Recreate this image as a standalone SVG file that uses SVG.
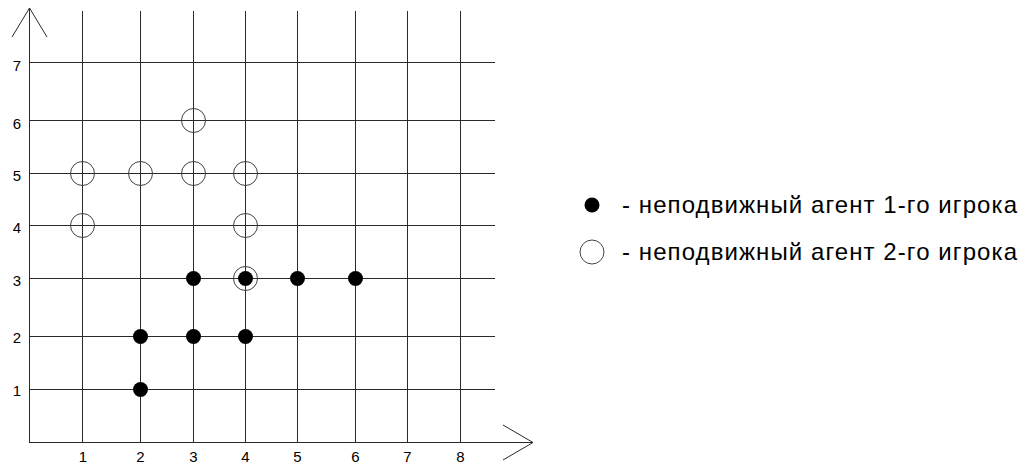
<svg xmlns="http://www.w3.org/2000/svg" width="1030" height="466" viewBox="0 0 1030 466">
<style>
.grid{stroke:#2a2a2a;stroke-width:1;fill:none}
.axis{stroke:#2a2a2a;stroke-width:1;fill:none}
.lbl{font-family:"Liberation Sans",Arial,sans-serif;font-size:15px;fill:#000;text-anchor:middle}
.leg{font-family:"Liberation Sans",Arial,sans-serif;font-size:24px;fill:#000}
.p1{fill:#000;stroke:none}
.p2{fill:none;stroke:#444;stroke-width:1}
</style>
<rect width="1030" height="466" fill="#fff"/>
<g id="connectors">
<g id="grid-v" class="grid">
<line x1="82.5" y1="11" x2="82.5" y2="443"/>
<line x1="140.5" y1="11" x2="140.5" y2="443"/>
<line x1="193.5" y1="11" x2="193.5" y2="443"/>
<line x1="245.5" y1="11" x2="245.5" y2="443"/>
<line x1="297.5" y1="11" x2="297.5" y2="443"/>
<line x1="355.5" y1="11" x2="355.5" y2="443"/>
<line x1="407.5" y1="11" x2="407.5" y2="443"/>
<line x1="460.5" y1="11" x2="460.5" y2="443"/>
</g>
<g id="grid-h" class="grid">
<line x1="30" y1="62.5" x2="495" y2="62.5"/>
<line x1="30" y1="120.5" x2="495" y2="120.5"/>
<line x1="30" y1="173.5" x2="495" y2="173.5"/>
<line x1="30" y1="225.5" x2="495" y2="225.5"/>
<line x1="30" y1="278.5" x2="495" y2="278.5"/>
<line x1="30" y1="336.5" x2="495" y2="336.5"/>
<line x1="30" y1="389.5" x2="495" y2="389.5"/>
</g>
<g id="axes" class="axis">
<line x1="29.5" y1="443" x2="29.5" y2="8"/>
<polyline points="12,37 29.5,8 47,37"/>
<line x1="29.5" y1="442.5" x2="533" y2="442.5"/>
<polyline points="503,425 533,442.5 503,460"/>
</g>
</g>
<g id="labels-y">
<text class="lbl" x="17" y="71">7</text>
<text class="lbl" x="17" y="129">6</text>
<text class="lbl" x="17" y="181">5</text>
<text class="lbl" x="17" y="233">4</text>
<text class="lbl" x="17" y="286">3</text>
<text class="lbl" x="17" y="343">2</text>
<text class="lbl" x="17" y="396">1</text>
</g>
<g id="labels-x">
<text class="lbl" x="83" y="462">1</text>
<text class="lbl" x="140.5" y="462">2</text>
<text class="lbl" x="193.5" y="462">3</text>
<text class="lbl" x="245.5" y="462">4</text>
<text class="lbl" x="297.5" y="462">5</text>
<text class="lbl" x="355.5" y="462">6</text>
<text class="lbl" x="407.5" y="462">7</text>
<text class="lbl" x="460.5" y="462">8</text>
</g>
<g id="player2">
<circle class="p2" cx="193.5" cy="120.5" r="12"/>
<circle class="p2" cx="82.5" cy="173.5" r="12"/>
<circle class="p2" cx="140.5" cy="173.5" r="12"/>
<circle class="p2" cx="193.5" cy="173.5" r="12"/>
<circle class="p2" cx="245.5" cy="173.5" r="12"/>
<circle class="p2" cx="82.5" cy="225.5" r="12"/>
<circle class="p2" cx="245.5" cy="225.5" r="12"/>
<circle class="p2" cx="245.5" cy="278.5" r="12"/>
</g>
<g id="player1">
<circle class="p1" cx="193.5" cy="278.5" r="7.5"/>
<circle class="p1" cx="245.5" cy="278.5" r="7.5"/>
<circle class="p1" cx="297.5" cy="278.5" r="7.5"/>
<circle class="p1" cx="355.5" cy="278.5" r="7.5"/>
<circle class="p1" cx="140.5" cy="336.5" r="7.5"/>
<circle class="p1" cx="193.5" cy="336.5" r="7.5"/>
<circle class="p1" cx="245.5" cy="336.5" r="7.5"/>
<circle class="p1" cx="140.5" cy="389.5" r="7.5"/>
</g>
<g id="legend">
<g id="legend1">
<circle class="p1" cx="592" cy="205" r="7.5"/>
<text class="leg" x="622" y="213" textLength="395" lengthAdjust="spacing">- неподвижный агент 1-го игрока</text>
</g>
<g id="legend2">
<circle class="p2" cx="592" cy="252" r="12"/>
<text class="leg" x="622" y="260" textLength="395" lengthAdjust="spacing">- неподвижный агент 2-го игрока</text>
</g>
</g>
</svg>
